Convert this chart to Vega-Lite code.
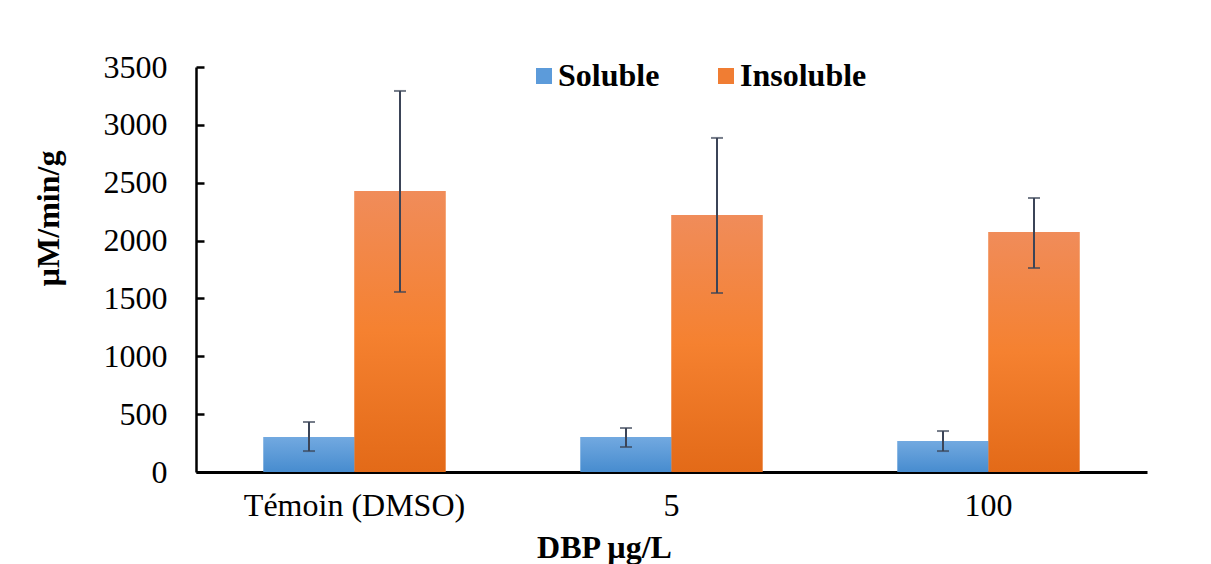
{
  "$schema": "https://vega.github.io/schema/vega-lite/v6.json",
  "width": 951,
  "height": 405,
  "autosize": {"type": "none"},
  "padding": {"left": 196, "top": 67, "right": 64, "bottom": 92},
  "background": "white",
  "config": {"view": {"stroke": null}, "font": "Liberation Serif"},
  "data": {
    "values": [
      {"dose": "Témoin (DMSO)", "type": "Soluble", "value": 302, "lo": 181, "hi": 432},
      {"dose": "Témoin (DMSO)", "type": "Insoluble", "value": 2428, "lo": 1556, "hi": 3293},
      {"dose": "5", "type": "Soluble", "value": 302, "lo": 216, "hi": 380},
      {"dose": "5", "type": "Insoluble", "value": 2221, "lo": 1547, "hi": 2887},
      {"dose": "100", "type": "Soluble", "value": 268, "lo": 181, "hi": 354},
      {"dose": "100", "type": "Insoluble", "value": 2074, "lo": 1763, "hi": 2368}
    ]
  },
  "encoding": {
    "x": {
      "field": "dose",
      "type": "nominal",
      "sort": ["Témoin (DMSO)", "5", "100"],
      "scale": {"paddingInner": 0.426, "paddingOuter": 0.213},
      "title": "DBP µg/L",
      "axis": {
        "labelAngle": 0,
        "labelLimit": 0,
        "ticks": false,
        "domainColor": "black",
        "domainWidth": 3,
        "labelFont": "Liberation Serif",
        "labelFontSize": 32,
        "labelColor": "black",
        "labelPadding": 18,
        "titleFont": "Liberation Serif",
        "titleFontSize": 32,
        "titleFontWeight": "bold",
        "titleColor": "black",
        "titleBaseline": "alphabetic",
        "titleX": 408,
        "titleY": 85
      }
    },
    "xOffset": {
      "field": "type",
      "type": "nominal",
      "sort": ["Soluble", "Insoluble"],
      "scale": {"paddingInner": 0, "paddingOuter": 0}
    }
  },
  "layer": [
    {
      "mark": {"type": "bar"},
      "encoding": {
        "y": {
          "field": "value",
          "type": "quantitative",
          "scale": {"domain": [0, 3500]},
          "title": "µM/min/g",
          "axis": {
            "values": [0, 500, 1000, 1500, 2000, 2500, 3000, 3500],
            "format": "d",
            "grid": false,
            "domainColor": "black",
            "domainWidth": 2.5,
            "tickColor": "black",
            "tickWidth": 2.5,
            "tickSize": -8,
            "labelFont": "Liberation Serif",
            "labelFontSize": 32,
            "labelColor": "black",
            "labelPadding": 37,
            "titleFont": "Liberation Serif",
            "titleFontSize": 32,
            "titleFontWeight": "bold",
            "titleColor": "black",
            "titleBaseline": "middle",
            "titleAlign": "center",
            "titleX": -148,
            "titleY": 151
          }
        },
        "color": {
          "field": "type",
          "type": "nominal",
          "sort": ["Soluble", "Insoluble"],
          "scale": {"domain": ["Soluble", "Insoluble"], "range": ["#5C9BDA", "#F07D33"]},
          "legend": {
            "orient": "none",
            "legendX": 332,
            "legendY": -7,
            "direction": "horizontal",
            "title": null,
            "symbolType": "square",
            "symbolSize": 256,
            "symbolStrokeWidth": 0,
            "symbolOpacity": 1,
            "labelFont": "Liberation Serif",
            "labelFontSize": 32,
            "labelFontWeight": "bold",
            "labelColor": "black",
            "labelOffset": -2,
            "columnPadding": 50,
            "padding": 0
          }
        }
      }
    },
    {
      "mark": {"type": "bar"},
      "encoding": {
        "y": {"field": "value", "type": "quantitative"},
        "fill": {
          "condition": {
            "test": "datum.type === 'Soluble'",
            "value": {
              "gradient": "linear",
              "x1": 0, "y1": 0, "x2": 0, "y2": 1,
              "stops": [
                {"offset": 0, "color": "#72A9E0"},
                {"offset": 1, "color": "#478CCF"}
              ]
            }
          },
          "value": {
            "gradient": "linear",
            "x1": 0, "y1": 0, "x2": 0, "y2": 1,
            "stops": [
              {"offset": 0, "color": "#F08C5A"},
              {"offset": 0.5, "color": "#F58130"},
              {"offset": 1, "color": "#E36A18"}
            ]
          }
        }
      }
    },
    {
      "mark": {"type": "rule", "color": "#3B4457", "strokeWidth": 2},
      "encoding": {
        "y": {"field": "lo", "type": "quantitative"},
        "y2": {"field": "hi"}
      }
    },
    {
      "mark": {"type": "tick", "color": "#3B4457", "thickness": 2, "size": 12},
      "encoding": {"y": {"field": "lo", "type": "quantitative"}}
    },
    {
      "mark": {"type": "tick", "color": "#3B4457", "thickness": 2, "size": 12},
      "encoding": {"y": {"field": "hi", "type": "quantitative"}}
    }
  ]
}
